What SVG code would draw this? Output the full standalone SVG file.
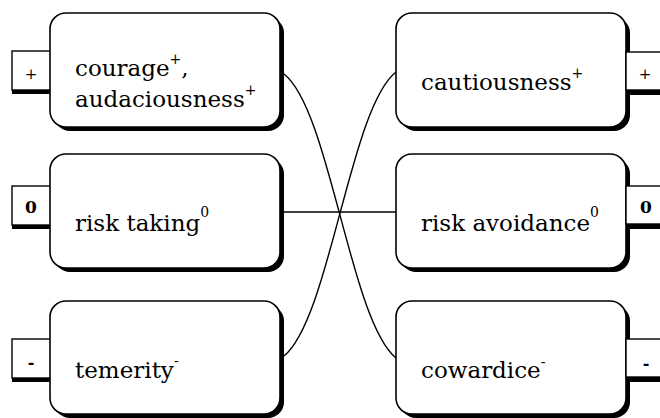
<svg xmlns="http://www.w3.org/2000/svg" width="660" height="418" viewBox="0 0 660 418">
<style>
.sh{fill:#000}
.box{fill:#fff;stroke:#000;stroke-width:1.6}
.lb{fill:#fff;stroke:#000;stroke-width:1.4}
.c{fill:none;stroke:#000;stroke-width:1.4}
</style>
<rect width="660" height="418" fill="#fff"/>
<g id="connectors">
<path class="c" d="M284 74 C330 110 350 320 396 358"/>
<path class="c" d="M396 72 C350 108 330 318 284 356"/>
<path class="c" d="M284 212 H396"/>
</g>
<g font-family="DejaVu Serif, Liberation Serif, serif" fill="#000">
<g id="courage">
<rect class="sh" x="12" y="89" width="40" height="5"/>
<rect class="lb" x="12" y="51" width="40" height="39"/>
<text x="31" y="78.5" font-size="15" text-anchor="middle">+</text>
<rect class="sh" x="54" y="17" width="230" height="114" rx="16"/>
<rect class="box" x="50" y="13" width="230" height="114" rx="16"/>
<text x="75" y="76" font-size="23">courage<tspan font-size="14" dy="-12">+</tspan><tspan dy="12">,</tspan></text>
<text x="75" y="107" font-size="23">audaciousness<tspan font-size="14" dy="-12">+</tspan></text>
</g>
<g id="risk-taking">
<rect class="sh" x="12" y="224" width="40" height="5"/>
<rect class="lb" x="12" y="186" width="40" height="39"/>
<text x="31" y="213" font-size="17" font-weight="bold" text-anchor="middle">0</text>
<rect class="sh" x="54" y="158" width="230" height="114" rx="16"/>
<rect class="box" x="50" y="154" width="230" height="114" rx="16"/>
<text x="75" y="231" font-size="23">risk taking<tspan font-size="14" dy="-14">0</tspan></text>
</g>
<g id="temerity">
<rect class="sh" x="12" y="377" width="40" height="5"/>
<rect class="lb" x="12" y="339" width="40" height="39"/>
<text x="31" y="368" font-size="16" font-weight="bold" text-anchor="middle">-</text>
<rect class="sh" x="54" y="305" width="230" height="113" rx="16"/>
<rect class="box" x="50" y="301" width="230" height="113" rx="16"/>
<text x="75" y="378" font-size="23">temerity<tspan font-size="14" dy="-12">-</tspan></text>
</g>
<g id="cautiousness">
<rect class="sh" x="400" y="17" width="230" height="114" rx="16"/>
<rect class="box" x="396" y="13" width="230" height="114" rx="16"/>
<rect class="sh" x="626" y="90" width="40" height="5"/>
<rect class="lb" x="626" y="52" width="40" height="38"/>
<text x="645" y="78.5" font-size="15" text-anchor="middle">+</text>
<text x="421" y="90" font-size="23">cautiousness<tspan font-size="14" dy="-12">+</tspan></text>
</g>
<g id="risk-avoidance">
<rect class="sh" x="400" y="158" width="230" height="114" rx="16"/>
<rect class="box" x="396" y="154" width="230" height="114" rx="16"/>
<rect class="sh" x="626" y="224" width="40" height="5"/>
<rect class="lb" x="626" y="186" width="40" height="38"/>
<text x="646" y="213" font-size="17" font-weight="bold" text-anchor="middle">0</text>
<text x="421" y="231" font-size="23">risk avoidance<tspan font-size="14" dy="-14">0</tspan></text>
</g>
<g id="cowardice">
<rect class="sh" x="400" y="305" width="230" height="113" rx="16"/>
<rect class="box" x="396" y="301" width="230" height="113" rx="16"/>
<rect class="sh" x="626" y="377" width="40" height="5"/>
<rect class="lb" x="626" y="339" width="40" height="38"/>
<text x="646" y="369" font-size="16" font-weight="bold" text-anchor="middle">-</text>
<text x="421" y="378" font-size="23">cowardice<tspan font-size="14" dy="-11">-</tspan></text>
</g>
</g>
</svg>
